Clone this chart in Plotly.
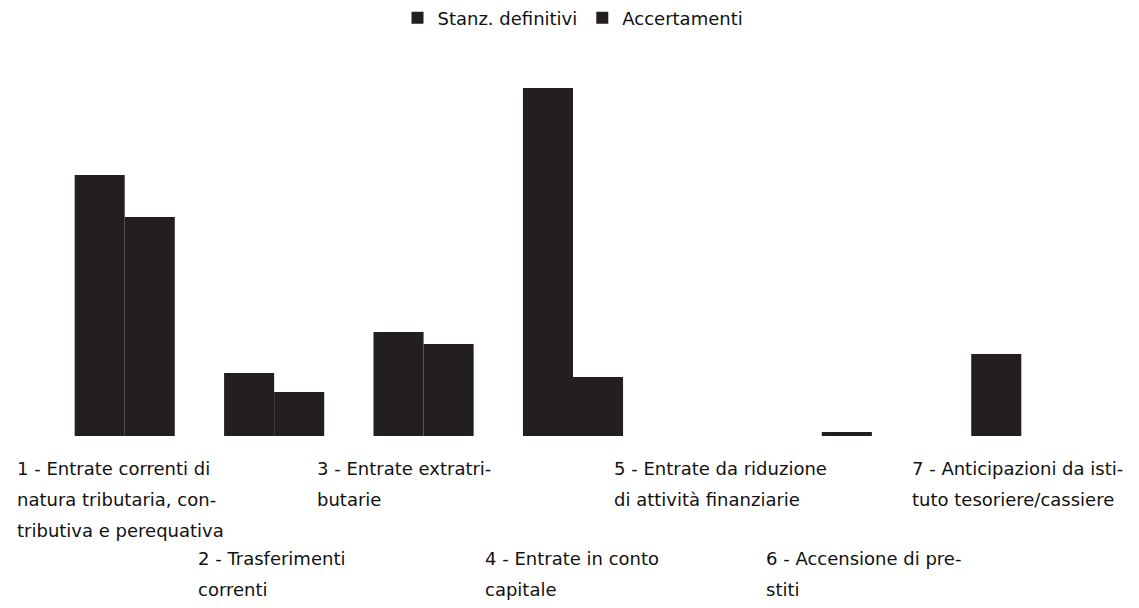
import plotly.graph_objects as go

categories = ["1", "2", "3", "4", "5", "6", "7"]
stanz_definitivi = [261, 63, 104, 348, 0, 4, 82]
accertamenti = [219, 44, 92, 59, 0, 0, 0]
label_lines = [
    ["1 - Entrate correnti di", "natura tributaria, con-", "tributiva e perequativa"],
    ["2 - Trasferimenti", "correnti"],
    ["3 - Entrate extratri-", "butarie"],
    ["4 - Entrate in conto", "capitale"],
    ["5 - Entrate da riduzione", "di attività finanziarie"],
    ["6 - Accensione di pre-", "stiti"],
    ["7 - Anticipazioni da isti-", "tuto tesoriere/cassiere"],
]

BAR = "#231f20"
FONT = "DejaVu Sans"
TXT = "#111111"

fig = go.Figure()
fig.add_trace(go.Bar(x=categories, y=stanz_definitivi, name="Stanz. definitivi",
                     marker=dict(color=BAR, line=dict(width=0))))
fig.add_trace(go.Bar(x=categories, y=accertamenti, name="Accertamenti",
                     marker=dict(color=BAR, line=dict(width=0))))

# staggered category labels (left edge offset from category centre, in px)
left_shift = [-110, -78, -109, -90, -110, -108, -111]
row_start = [-32, -122]  # pixel offset of first line centre from baseline
for i, lines in enumerate(label_lines):
    base = row_start[i % 2]
    for j, line in enumerate(lines):
        # numeric x = category index on the category axis
        fig.add_annotation(x=i, xref="x", y=0, yref="paper",
                           text=line, showarrow=False,
                           xanchor="left", yanchor="middle", align="left",
                           xshift=left_shift[i], yshift=base - 31 * j,
                           font=dict(family=FONT, size=18, color=TXT))

# figure is 16px smaller than the window to leave room for the page's 8px body margin
fig.update_layout(
    width=1123, height=592,
    margin=dict(l=42, r=35, t=68, b=164, autoexpand=False),
    paper_bgcolor="white", plot_bgcolor="white",
    barmode="group", bargap=0.33, bargroupgap=0,
    showlegend=True,
    legend=dict(orientation="h", x=0.5, xanchor="center", y=1.161, yanchor="middle",
                font=dict(family=FONT, size=18, color=TXT), itemwidth=30,
                bgcolor="rgba(0,0,0,0)"),
    xaxis=dict(type="category", range=[-0.5, 6.5], autorange=False,
               showticklabels=False, showgrid=False, zeroline=False,
               showline=False, ticks=""),
    yaxis=dict(range=[0, 360], autorange=False, showticklabels=False, showgrid=False,
               zeroline=False, showline=False, ticks=""),
)

fig.write_html("out.html")
